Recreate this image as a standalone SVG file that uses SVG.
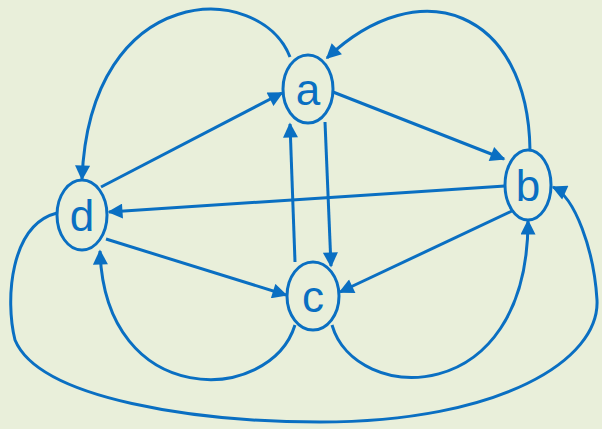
<svg xmlns="http://www.w3.org/2000/svg" width="602" height="429" viewBox="0 0 602 429">
<defs>
<style>
.n{fill:none;stroke:#0a6fc2;stroke-width:3}
.t{font-family:"Liberation Sans",Arial,sans-serif;font-size:44px;fill:#0a6fc2;text-anchor:middle}
.e{fill:none;stroke:#0a6fc2;stroke-width:3}
</style>
<marker id="ar" viewBox="0 0 10 10" refX="9" refY="5" markerWidth="5.5" markerHeight="5" orient="auto" markerUnits="strokeWidth">
<path d="M0,0 L10,5 L0,10 Z" fill="#0a6fc2"/>
</marker>
</defs>
<rect width="602" height="429" fill="#e9efda"/>
<g id="edges">
<path class="e" d="M333,92 L504,159" marker-end="url(#ar)"/>
<path class="e" d="M325,122 L331,266" marker-end="url(#ar)"/>
<path class="e" d="M295,262 L290,124" marker-end="url(#ar)"/>
<path class="e" d="M101,187 L282,93" marker-end="url(#ar)"/>
<path class="e" d="M505,186 L109,212" marker-end="url(#ar)"/>
<path class="e" d="M512,211 L340,292" marker-end="url(#ar)"/>
<path class="e" d="M106,239 L286,295" marker-end="url(#ar)"/>
<path class="e" d="M290,57 C260,-20 90,-20 82,179" marker-end="url(#ar)"/>
<path class="e" d="M530,150 C528,10 420,-30 327,58" marker-end="url(#ar)"/>
<path class="e" d="M295,325 C270,405 105,410 100,251" marker-end="url(#ar)"/>
<path class="e" d="M332,325 C355,405 528,410 528,221" marker-end="url(#ar)"/>
<path class="e" d="M57,213 C10,225 5,300 15,340 C40,400 200,422 320,422 C500,422 600,360 597,300 C594,250 575,197 553,187" marker-end="url(#ar)"/>
</g>
<g id="a"><ellipse class="n" cx="308" cy="89" rx="25" ry="34"/><text class="t" x="308" y="105">a</text></g>
<g id="b"><ellipse class="n" cx="528" cy="185" rx="23" ry="35"/><text class="t" x="528" y="201">b</text></g>
<g id="d"><ellipse class="n" cx="82" cy="215" rx="25" ry="35"/><text class="t" x="82" y="231">d</text></g>
<g id="c"><ellipse class="n" cx="313" cy="296" rx="26" ry="34"/><text class="t" x="313" y="312">c</text></g>
</svg>
